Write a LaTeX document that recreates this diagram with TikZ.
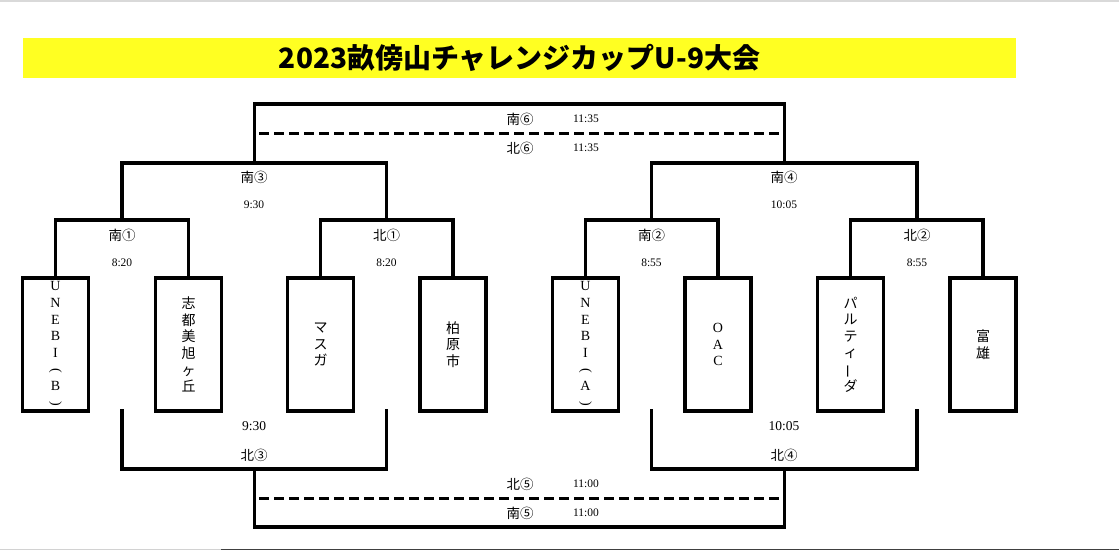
\documentclass[tikz,border=0pt]{standalone}
\usepackage{fontspec}
\setmainfont{Liberation Serif}
\newfontfamily\jp{Noto Sans CJK JP}
\definecolor{ttl}{RGB}{255,255,34}
\newcommand\vparl{\rotatebox[origin=c]{-90}{(}}
\newcommand\vparr{\rotatebox[origin=c]{-90}{)}}
\newcommand\vbarch{\rotatebox[origin=c]{90}{ー}}
\begin{document}
\begin{tikzpicture}[x=1pt,y=-1pt,
  brk/.style={line width=3.2pt, line join=miter, line cap=rect},
  teambox/.style={draw, line width=3.2pt, minimum width=66pt, minimum height=133pt, inner sep=0pt, align=center, font=\fontsize{14}{16.6}\selectfont},
  jbox/.style={teambox, font=\jp\fontsize{14}{16.6}\selectfont},
  dashline/.style={line width=3pt, dash pattern=on 10pt off 5pt},
  lbl/.style={font=\jp\fontsize{13.5}{14}\selectfont, inner sep=0pt},
  tm/.style={font=\fontsize{11.5}{12}\selectfont, inner sep=0pt},
  tmb/.style={font=\fontsize{13.5}{14}\selectfont, inner sep=0pt}]
\useasboundingbox (0,0) rectangle (1119,551);
\fill[white] (0,0) rectangle (1119,551);
\fill[gray!30] (0,0) rectangle (1119,2.5);
\draw[gray!35, line width=1.5pt] (0,549.5) -- (221,549.5);
\draw[black!75, line width=1.5pt] (221,549.5) -- (1119,549.5);
% title
\node[fill=ttl, minimum width=993pt, minimum height=40pt, inner sep=0pt,
      font=\jp\bfseries\fontsize{28}{30}\selectfont] (title) at (519.5,58) {2023畝傍山チャレンジカップU-9大会};
% team boxes
\node[teambox] (t1) at (55.5,344.5) {U\\N\\E\\B\\I\\\vparl\\B\\\vparr};
\node[jbox] (t2) at (188.5,344.5) {志\\都\\美\\旭\\ヶ\\丘};
\node[jbox] (t3) at (320.5,344.5) {マ\\ス\\ガ};
\node[jbox] (t4) at (453,344.5) {柏\\原\\市};
\node[teambox] (t5) at (585.5,344.5) {U\\N\\E\\B\\I\\\vparl\\A\\\vparr};
\node[teambox] (t6) at (718,344.5) {O\\A\\C};
\node[jbox] (t7) at (850.5,344.5) {パ\\ル\\テ\\ィ\\\vbarch\\ダ};
\node[jbox] (t8) at (983,344.5) {富\\雄};
% junctions
\coordinate (m1) at (122,220);
\coordinate (m2) at (386.5,220);
\coordinate (m3) at (651.5,220);
\coordinate (m4) at (917,220);
\coordinate (s3) at (254.25,163);
\coordinate (s4) at (784.25,163);
\coordinate (s6) at (519,104);
\coordinate (d6a) at (259,133.5);
\coordinate (d6b) at (783,133.5);
\coordinate (b1) at (122,411);
\coordinate (b2) at (386.5,411);
\coordinate (b3) at (651.5,411);
\coordinate (b4) at (917,411);
\coordinate (n3) at (254.25,469);
\coordinate (n4) at (784.25,469);
\coordinate (n5) at (519,527);
\coordinate (d5a) at (259,498.5);
\coordinate (d5b) at (783,498.5);
% top brackets
\draw[brk] (t1.north) |- (m1) -| (t2.north);
\draw[brk] (t3.north) |- (m2) -| (t4.north);
\draw[brk] (t5.north) |- (m3) -| (t6.north);
\draw[brk] (t7.north) |- (m4) -| (t8.north);
\draw[brk] (m1) |- (s3) -| (m2);
\draw[brk] (m3) |- (s4) -| (m4);
\draw[brk] (s3) |- (s6) -| (s4);
\draw[dashline] (d6a) -- (d6b);
% bottom brackets
\draw[brk] (b1) |- (n3) -| (b2);
\draw[brk] (b3) |- (n4) -| (b4);
\draw[brk] (n3) |- (n5) -| (n4);
\draw[dashline] (d5a) -- (d5b);
% labels
\node[lbl] (l1) at (122,235) {南①};
\node[tm] (l1t) at (122,263) {8:20};
\node[lbl] (l2) at (386.5,235) {北①};
\node[tm] (l2t) at (386.5,263) {8:20};
\node[lbl] (l3) at (651.5,235) {南②};
\node[tm] (l3t) at (651.5,263) {8:55};
\node[lbl] (l4) at (917,235) {北②};
\node[tm] (l4t) at (917,263) {8:55};
\node[lbl] (l5) at (254,177) {南③};
\node[tm] (l5t) at (254,205) {9:30};
\node[lbl] (l6) at (784,177) {南④};
\node[tm] (l6t) at (784,205) {10:05};
\node[lbl] (l7) at (520,119) {南⑥};
\node[tm] (l7t) at (586,118.5) {11:35};
\node[lbl] (l8) at (520,148) {北⑥};
\node[tm] (l8t) at (586,147.5) {11:35};
\node[tmb] (l9t) at (254,426) {9:30};
\node[lbl] (l9) at (254,455) {北③};
\node[tmb] (l10t) at (784,426) {10:05};
\node[lbl] (l10) at (784,455) {北④};
\node[lbl] (l11) at (520,484) {北⑤};
\node[tm] (l11t) at (586,484) {11:00};
\node[lbl] (l12) at (520,513) {南⑤};
\node[tm] (l12t) at (586,513) {11:00};
\end{tikzpicture}
\end{document}
